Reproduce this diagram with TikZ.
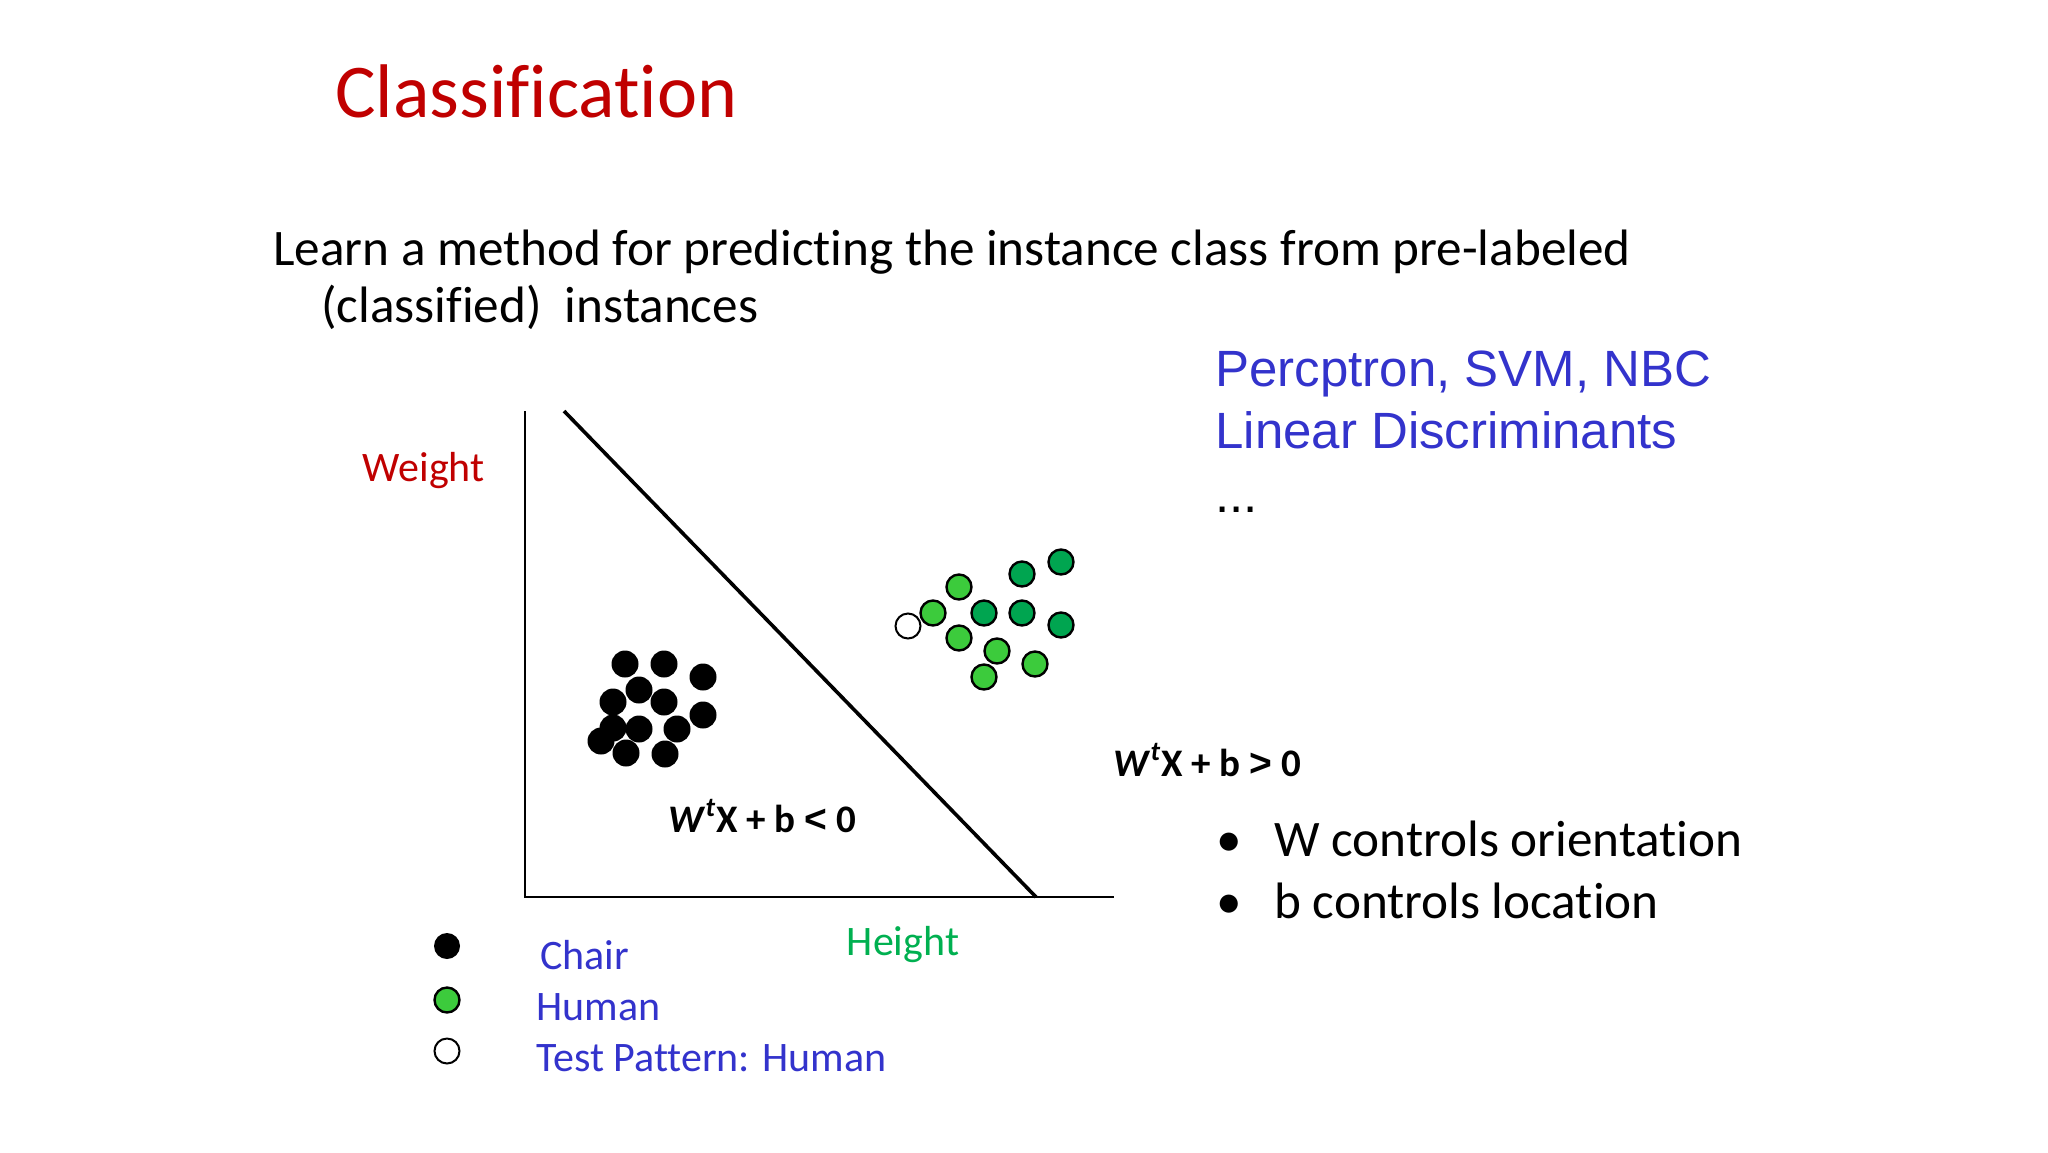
\documentclass[tikz,border=0pt]{standalone}
\usepackage{fontspec}
\setmainfont[Ligatures=NoCommon]{Carlito}
\newfontfamily\arialf{Liberation Sans}
\definecolor{titlered}{HTML}{C00000}
\definecolor{txtblue}{HTML}{3333CC}
\definecolor{hgreen}{HTML}{00B050}
\definecolor{lgreen}{HTML}{3CCB3C}
\definecolor{dgreen}{HTML}{00A550}
\begin{document}
\begin{tikzpicture}[x=0.5pt,y=-0.5pt,
  chair/.style={circle,fill=black,minimum size=13.5pt,inner sep=0pt},
  humanl/.style={circle,draw=black,line width=1.2pt,fill=lgreen,minimum size=12.5pt,inner sep=0pt},
  humand/.style={circle,draw=black,line width=1.2pt,fill=dgreen,minimum size=12.5pt,inner sep=0pt},
  testp/.style={circle,draw=black,line width=1pt,fill=white,minimum size=12.5pt,inner sep=0pt},
  lbl/.style={inner sep=0pt,anchor=base west}]
\useasboundingbox (0,0) rectangle (2048,1152);
\node[lbl,text=titlered,font=\fontsize{38}{44}\selectfont] (title) at (335,117) {Classification};
\node[lbl,font=\fontsize{25.6}{30}\selectfont] (l1) at (273,265) {Learn a method for predicting the instance class from pre-labeled};
\node[lbl,font=\fontsize{25.6}{30}\selectfont] (l2) at (321,322) {(classified)\ \ instances};
\node[lbl,text=txtblue,font=\arialf\fontsize{25.5}{30}\selectfont] (p1) at (1215,386) {Percptron, SVM, NBC};
\node[lbl,text=txtblue,font=\arialf\fontsize{25.5}{30}\selectfont] (p2) at (1215,448) {Linear Discriminants};
\node[lbl,font=\arialf\fontsize{25.5}{30}\selectfont] (p3) at (1215,512) {...};
% axes
\coordinate (o) at (525,897);
\coordinate (yt) at (525,411);
\coordinate (xe) at (1114,897);
\coordinate (d1) at (564,411);
\coordinate (d2) at (1036,897);
\draw[line width=1.3pt] (yt) -- (o) -- (xe);
\draw[line width=1.8pt] (d1) -- (d2);
\node[anchor=base east,inner sep=0pt,text=titlered,font=\fontsize{21}{25}\selectfont] (wt) at (485,481) {Weight};
\node[anchor=base,inner sep=0pt,text=hgreen,font=\fontsize{21}{25}\selectfont] (ht) at (903,955) {Height};
\node[lbl,font=\fontsize{19.5}{23}\selectfont\bfseries] (neg) at (668,832) {\textit{W}\textsuperscript{\textit{t}}X + b {\arialf<} 0};
\node[lbl,font=\fontsize{19.5}{23}\selectfont\bfseries] (pos) at (1113,776) {\textit{W}\textsuperscript{\textit{t}}X + b {\arialf>} 0};
\node[lbl,font=\fontsize{25.6}{30}\selectfont] (b1) at (1216,856) {\textbullet};
\node[lbl,font=\fontsize{25.6}{30}\selectfont] (b1t) at (1274,856) {W controls orientation};
\node[lbl,font=\fontsize{25.6}{30}\selectfont] (b2) at (1216,918) {\textbullet};
\node[lbl,font=\fontsize{25.6}{30}\selectfont] (b2t) at (1274,918) {b controls location};
% chairs
\foreach \x/\y [count=\i] in {625/664,664/664,703/677,639/690,613/702,664/702,703/715,613/728,639/729,677/729,601/741,626/753,665/754}
  \node[chair] (c\i) at (\x,\y) {};
% humans
\node[testp] (t) at (908,626) {};
\foreach \x/\y [count=\i] in {933/613,959/587,959/638,997/651,984/677,1035/664}
  \node[humanl] (hl\i) at (\x,\y) {};
\foreach \x/\y [count=\i] in {984/613,1022/574,1061/562,1022/613,1061/625}
  \node[humand] (hd\i) at (\x,\y) {};
% legend
\node[chair,minimum size=13pt] (lc) at (447,946) {};
\node[humanl,minimum size=12.5pt] (lh) at (447,1000) {};
\node[testp,minimum size=12.5pt] (lt) at (447,1051) {};
\node[lbl,text=txtblue,font=\fontsize{21}{25}\selectfont] (lct) at (540,969) {Chair};
\node[lbl,text=txtblue,font=\fontsize{21}{25}\selectfont] (lht) at (536,1020) {Human};
\node[lbl,text=txtblue,font=\fontsize{21}{25}\selectfont] (ltt) at (536,1071) {Test Pattern: Human};
\end{tikzpicture}
\end{document}
